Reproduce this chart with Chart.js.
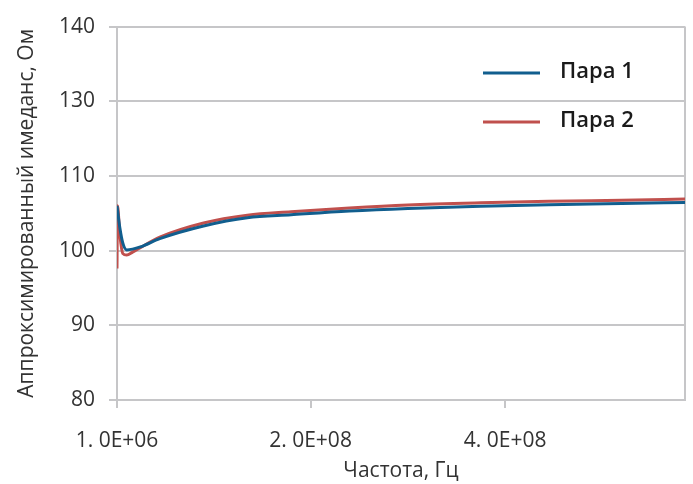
<!DOCTYPE html>
<html>
<head>
<meta charset="utf-8">
<script src="https://cdn.jsdelivr.net/npm/chart.js@4"></script>
<style>
  html, body { margin: 0; padding: 0; background: #fff; }
  #wrap { width: 693px; height: 484px; }
</style>
</head>
<body>
<div id="wrap"><canvas id="chart" width="693" height="484"></canvas></div>
<script>
// --- Data ---
var freq1 = [1e6, 4e6, 7e6, 1.1e7, 1.7e7, 2.5e7, 4.5e7, 9e7, 1.35e8, 1.8e8, 2.4e8, 3.0e8, 3.75e8, 4.45e8, 5.2e8, 5.85e8];
var para1 = [106.0, 103.0, 101.0, 100.1, 100.2, 100.5, 101.6, 103.3, 104.4, 104.8, 105.3, 105.65, 105.95, 106.15, 106.3, 106.45];

var freq2 = [1e6, 1.5e6, 4e6, 7e6, 1.1e7, 1.7e7, 2.5e7, 4.5e7, 9e7, 1.35e8, 1.8e8, 2.4e8, 3.0e8, 3.75e8, 4.45e8, 5.2e8, 5.85e8];
var para2 = [97.6, 106.0, 102.0, 99.6, 99.4, 99.8, 100.4, 101.8, 103.7, 104.75, 105.2, 105.7, 106.1, 106.4, 106.6, 106.75, 106.9];

var seriesNames = ['Пара 1', 'Пара 2'];
var xTicks = [1e6, 2e8, 4e8];
var xTickLabels = ['1. 0E+06', '2. 0E+08', '4. 0E+08'];
// the source figure labels its six evenly spaced gridlines like this (no 120)
var yTicks = [80, 90, 100, 110, 120, 130];
var yTickLabels = ['80', '90', '100', '110', '130', '140'];

var gridGray = '#c6c6c8';
var textColor = '#333333';
var font = 'Open Sans, sans-serif';

function toPoints(xs, ys) {
    return xs.map(function (x, i) { return { x: x, y: ys[i] }; });
}

// legend inside plot + right border of plot area
var framePlugin = {
    id: 'frame',
    beforeDatasetsDraw: function (chart) {
        var ctx = chart.ctx, a = chart.chartArea;
        ctx.save();
        ctx.strokeStyle = gridGray;
        ctx.lineWidth = 2;
        ctx.beginPath();
        ctx.moveTo(a.right, a.top);
        ctx.lineTo(a.right, a.bottom);
        ctx.stroke();
        ctx.restore();
    },
    afterDraw: function (chart) {
        var ctx = chart.ctx;
        ctx.save();
        chart.data.datasets.forEach(function (ds, i) {
            var y = 73 + i * 49;
            ctx.strokeStyle = ds.borderColor;
            ctx.lineWidth = 3;
            ctx.beginPath();
            ctx.moveTo(483, y);
            ctx.lineTo(540, y);
            ctx.stroke();
            ctx.fillStyle = '#1a1a1a';
            ctx.font = '600 22px ' + font;
            ctx.textBaseline = 'alphabetic';
            ctx.fillText(ds.label, 560, y + 5);
        });
        ctx.restore();
    }
};

new Chart(document.getElementById('chart'), {
    type: 'line',
    data: {
        datasets: [{
            label: seriesNames[0],
            data: toPoints(freq1, para1),
            borderColor: '#115e8e',
            borderWidth: 3,
            pointRadius: 0,
            cubicInterpolationMode: 'monotone'
        }, {
            label: seriesNames[1],
            data: toPoints(freq2, para2),
            borderColor: '#c0504d',
            borderWidth: 3,
            pointRadius: 0,
            cubicInterpolationMode: 'monotone'
        }]
    },
    options: {
        responsive: false,
        animation: false,
        layout: { padding: { top: 25, right: 8, left: 0, bottom: 0 } },
        plugins: { legend: { display: false }, tooltip: { enabled: false } },
        scales: {
            x: {
                type: 'linear',
                min: 1e6,
                max: 5.85e8,
                afterBuildTicks: function (axis) {
                    axis.ticks = xTicks.map(function (v) { return { value: v }; });
                },
                afterFit: function (s) { s.height = 84; },
                ticks: {
                    callback: function (v, i) { return xTickLabels[i]; },
                    color: textColor,
                    font: { family: font, size: 21 },
                    padding: 20,
                    maxRotation: 0,
                    autoSkip: false
                },
                grid: { drawOnChartArea: false, color: gridGray, lineWidth: 2, tickLength: 8 },
                border: { color: gridGray, width: 2 },
                title: {
                    display: true,
                    text: 'Частота, Гц',
                    color: textColor,
                    font: { family: font, size: 21 },
                    padding: { top: 0, bottom: 0 }
                }
            },
            y: {
                min: 80,
                max: 130,
                afterBuildTicks: function (axis) {
                    axis.ticks = yTicks.map(function (v) { return { value: v }; });
                },
                afterFit: function (s) { s.width = 117; },
                ticks: {
                    callback: function (v, i) { return yTickLabels[i]; },
                    color: textColor,
                    font: { family: font, size: 21 },
                    padding: 14
                },
                grid: { color: gridGray, lineWidth: 2, tickLength: 8 },
                border: { color: gridGray, width: 2 },
                title: {
                    display: true,
                    text: 'Аппроксимированный имеданс, Ом',
                    color: textColor,
                    font: { family: font, size: 21 },
                    padding: { top: 14, bottom: 0 }
                }
            }
        }
    },
    plugins: [framePlugin]
});
</script>
</body>
</html>
